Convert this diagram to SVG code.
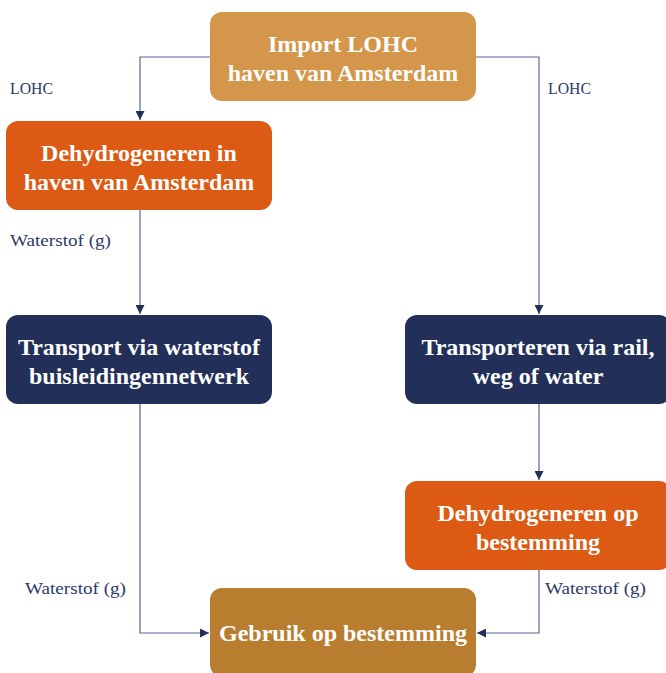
<svg xmlns="http://www.w3.org/2000/svg" width="666" height="673" viewBox="0 0 666 673">
<defs>
<marker id="ah" viewBox="0 0 10 10" refX="10" refY="5" markerWidth="9" markerHeight="9" markerUnits="userSpaceOnUse" orient="auto">
<path d="M0,0 L10,5 L0,10 Z" fill="#223059"/>
</marker>
<style>
.box{stroke:none}
.t{font-family:"Liberation Serif","DejaVu Serif",serif;font-weight:bold;font-size:24px;fill:#ffffff;text-anchor:middle}
.l{font-family:"Liberation Serif","DejaVu Serif",serif;font-size:17px;fill:#2B3A67}
.c{fill:none;stroke:#5A6690;stroke-width:1.2}
</style>
</defs>
<rect width="666" height="673" fill="#ffffff"/>
<g id="connectors">
<path class="c" d="M210,57 H140 V120" marker-end="url(#ah)"/>
<path class="c" d="M476,57 H539 V314" marker-end="url(#ah)"/>
<path class="c" d="M140,210 V314" marker-end="url(#ah)"/>
<path class="c" d="M539,404 V480" marker-end="url(#ah)"/>
<path class="c" d="M140,404 V633 H209" marker-end="url(#ah)"/>
<path class="c" d="M539,570 V633 H477" marker-end="url(#ah)"/>
</g>
<g id="labels">
<text class="l" x="10" y="94" textLength="43" lengthAdjust="spacingAndGlyphs">LOHC</text>
<text class="l" x="548" y="94" textLength="43" lengthAdjust="spacingAndGlyphs">LOHC</text>
<text class="l" x="10" y="246" textLength="101" lengthAdjust="spacingAndGlyphs">Waterstof (g)</text>
<text class="l" x="25" y="594" textLength="101" lengthAdjust="spacingAndGlyphs">Waterstof (g)</text>
<text class="l" x="545" y="594" textLength="101" lengthAdjust="spacingAndGlyphs">Waterstof (g)</text>
</g>
<g id="import">
<rect class="box" x="210" y="12" width="266" height="89" rx="12" fill="#D4964A"/>
<text class="t" x="343" y="52">Import LOHC</text>
<text class="t" x="343" y="81">haven van Amsterdam</text>
</g>
<g id="dehydro-ams">
<rect class="box" x="6" y="121" width="266" height="89" rx="12" fill="#DC5A14"/>
<text class="t" x="139" y="161">Dehydrogeneren in</text>
<text class="t" x="139" y="190">haven van Amsterdam</text>
</g>
<g id="transport-pipe">
<rect class="box" x="6" y="315" width="266" height="89" rx="12" fill="#223059"/>
<text class="t" x="139" y="355">Transport via waterstof</text>
<text class="t" x="139" y="384">buisleidingennetwerk</text>
</g>
<g id="transport-rail">
<rect class="box" x="405" y="315" width="266" height="89" rx="12" fill="#223059"/>
<text class="t" x="538" y="355">Transporteren via rail,</text>
<text class="t" x="538" y="384">weg of water</text>
</g>
<g id="dehydro-dest">
<rect class="box" x="405" y="481" width="266" height="89" rx="12" fill="#DC5A14"/>
<text class="t" x="538" y="521">Dehydrogeneren op</text>
<text class="t" x="538" y="550">bestemming</text>
</g>
<g id="gebruik">
<rect class="box" x="210" y="588" width="266" height="89" rx="12" fill="#B97D30"/>
<text class="t" x="343" y="641">Gebruik op bestemming</text>
</g>
</svg>
